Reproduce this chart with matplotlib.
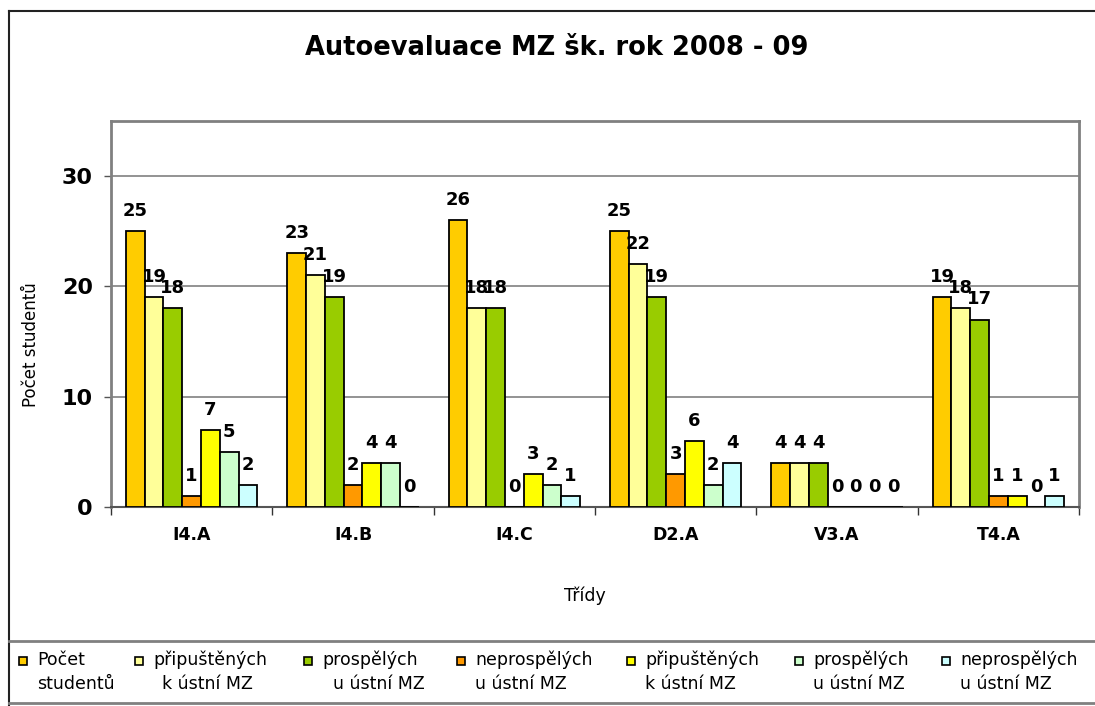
import matplotlib
matplotlib.use('Agg')
import matplotlib.pyplot as plt
import numpy as np
from matplotlib.lines import Line2D
from matplotlib.patches import Rectangle

categories = ['I4.A', 'I4.B', 'I4.C', 'D2.A', 'V3.A', 'T4.A']
pocet_studentu = [25, 23, 26, 25, 4, 19]
pripusteni_1 = [19, 21, 18, 22, 4, 18]
prospeli_1 = [18, 19, 18, 19, 4, 17]
neprospeli_1 = [1, 2, 0, 3, 0, 1]
pripusteni_2 = [7, 4, 3, 6, 0, 1]
prospeli_2 = [5, 4, 2, 2, 0, 0]
neprospeli_2 = [2, 0, 1, 4, 0, 1]

series = [pocet_studentu, pripusteni_1, prospeli_1, neprospeli_1,
          pripusteni_2, prospeli_2, neprospeli_2]
series_first = ['Počet', 'připuštěných', 'prospělých', 'neprospělých',
                'připuštěných', 'prospělých', 'neprospělých']
series_second = ['studentů', 'k ústní MZ', 'u ústní MZ', 'u ústní MZ',
                 'k ústní MZ', 'u ústní MZ', 'u ústní MZ']
colors = ['#FFCC00', '#FFFF99', '#99CC00', '#FF9900', '#FFFF00', '#CCFFCC', '#CCFFFF']
yticks = [0, 10, 20, 30]

W, H = 1095, 706
fig = plt.figure(figsize=(W / 100, H / 100), dpi=100)
ax = fig.add_axes([111 / W, 1 - 507 / H, (1079 - 111) / W, (507 - 121) / H])

x = np.arange(len(categories))
bw = 0.1164
n = len(series)
for i, (vals, col) in enumerate(zip(series, colors)):
    pos = x + (i - (n - 1) / 2) * bw
    ax.bar(pos, vals, width=bw, color=col, edgecolor='black', linewidth=1.3, zorder=3)
    for px, v in zip(pos, vals):
        ax.annotate(str(v), (px, v), xytext=(0, 8), textcoords='offset points',
                    ha='center', va='bottom', fontsize=13, fontweight='bold', zorder=4)

ax.set_xlim(-0.5, len(categories) - 0.5)
ax.set_ylim(0, 35)
ax.set_yticks(yticks)
ax.set_yticklabels([str(t) for t in yticks], fontsize=16, fontweight='bold')
ax.yaxis.grid(True, color='#808080', linewidth=1.2, zorder=0)
ax.set_xticks(x)
ax.set_xticklabels(categories, fontsize=12.5, fontweight='bold')
ax.set_xticks(np.arange(len(categories) + 1) - 0.5, minor=True)
ax.tick_params(axis='x', which='major', length=0, pad=14)
ax.tick_params(axis='x', which='minor', length=6, width=1, color='#333333', direction='out')
ax.tick_params(axis='y', length=5, width=1, color='#555555', pad=8)
for s in ['left', 'top', 'right']:
    ax.spines[s].set_color('#808080')
    ax.spines[s].set_linewidth(2)
ax.spines['bottom'].set_color('#555555')
ax.spines['bottom'].set_linewidth(1.5)

ax.set_ylabel('Počet studentů', fontsize=12)
ax.yaxis.set_label_coords(-(111 - 40) / (1079 - 111), 0.42)

fig.text(557 / W, 1 - 48 / H, 'Autoevaluace MZ šk. rok 2008 - 09', ha='center', va='center',
         fontsize=18.5, fontweight='bold')
fig.text(585 / W, 1 - 596 / H, 'Třídy', ha='center', va='center', fontsize=12.5)

# outer frame
fig.add_artist(Line2D([9 / W, 9 / W], [1 - 11 / H, 0], color='#222222', linewidth=1.5))
fig.add_artist(Line2D([9 / W, 1], [1 - 11 / H, 1 - 11 / H], color='#222222', linewidth=1.5))
# legend box lines
fig.add_artist(Line2D([9 / W, 1], [1 - 641 / H, 1 - 641 / H], color='#808080', linewidth=2))
fig.add_artist(Line2D([9 / W, 1], [1 - 703 / H, 1 - 703 / H], color='#808080', linewidth=2))

text_x = [37, 153, 322, 475, 645, 813, 960]
text2_x = [37, 162, 333, 475, 645, 813, 960]
for tx, tx2, l1, l2, col in zip(text_x, text2_x, series_first, series_second, colors):
    fig.add_artist(Rectangle(((tx - 18) / W, 1 - 665 / H), 8 / W, 8 / H,
                             facecolor=col, edgecolor='black', linewidth=1.2))
    fig.text(tx / W, 1 - 660 / H, l1, ha='left', va='center', fontsize=12.5)
    fig.text(tx2 / W, 1 - 684 / H, l2, ha='left', va='center', fontsize=12.5)

fig.savefig('out.png', dpi=100)
